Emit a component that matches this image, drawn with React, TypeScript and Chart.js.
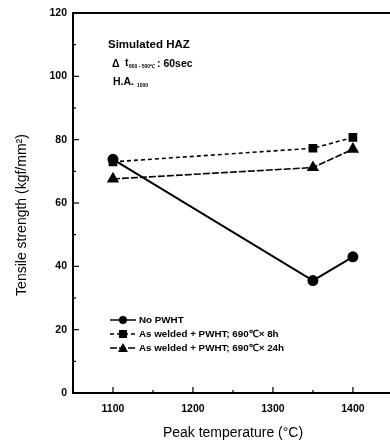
import React, { useEffect, useRef } from "react";
import { Chart, registerables } from "chart.js";

Chart.register(...registerables);

const temps = [1100, 1350, 1400];
const noPwht = [73.8, 35.5, 43];
const pwht8h = [73, 77.3, 80.7];
const pwht24h = [67.6, 71.2, 77];
const seriesNames = ["No PWHT", "As welded + PWHT; 690\u2103\u00d7 8h", "As welded + PWHT; 690\u2103\u00d7 24h"];
const xTicks = [1100, 1200, 1300, 1400];
const yTicks = [0, 20, 40, 60, 80, 100, 120];

const FONT = 'Arial, "Liberation Sans", sans-serif';

const overlay = {
  id: "overlay",
  afterDraw(chart: any) {
    const ctx = chart.ctx;
    const xs = chart.scales.x;
    const ys = chart.scales.y;
    const a = chart.chartArea;
    ctx.save();
    ctx.strokeStyle = "#000";
    ctx.lineWidth = 2;
    ctx.strokeRect(a.left, a.top, a.right - a.left, a.bottom - a.top);
    // inward ticks
    ctx.lineWidth = 1.2;
    for (let v = 1050; v <= 1450; v += 50) {
      const px = xs.getPixelForValue(v);
      const len = v % 100 === 0 ? 6 : 3;
      ctx.beginPath();
      ctx.moveTo(px, a.bottom);
      ctx.lineTo(px, a.bottom - len);
      ctx.stroke();
    }
    for (let v = 0; v <= 120; v += 10) {
      const py = ys.getPixelForValue(v);
      const len = v % 20 === 0 ? 6 : 3;
      ctx.beginPath();
      ctx.moveTo(a.left, py);
      ctx.lineTo(a.left + len, py);
      ctx.stroke();
    }
    ctx.fillStyle = "#000";
    // annotation text
    ctx.textAlign = "left";
    ctx.textBaseline = "middle";
    ctx.font = "bold 11.5px " + FONT;
    ctx.fillText("Simulated HAZ", 108, 45);
    ctx.font = "bold 10.5px " + FONT;
    ctx.fillText("\u0394", 112, 64);
    ctx.fillText("t", 125, 63);
    ctx.font = "bold 5px " + FONT;
    ctx.fillText("800 - 500\u2103", 129, 67);
    ctx.font = "bold 10.5px " + FONT;
    ctx.fillText(": 60sec", 157, 64);
    ctx.fillText("H.A.", 113, 82);
    ctx.font = "bold 5px " + FONT;
    ctx.fillText("1000", 137, 86);
    // legend
    const rows = [320, 334, 348];
    const dashes = [[], [4, 3], [7, 2]];
    const shapes = ["circle", "rect", "triangle"];
    rows.forEach((y, i) => {
      ctx.lineWidth = 1.5;
      ctx.setLineDash(dashes[i]);
      ctx.beginPath();
      ctx.moveTo(110, y);
      ctx.lineTo(136, y);
      ctx.stroke();
      ctx.setLineDash([]);
      const cx = 123;
      ctx.beginPath();
      if (shapes[i] === "circle") {
        ctx.arc(cx, y, 4, 0, Math.PI * 2);
      } else if (shapes[i] === "rect") {
        ctx.rect(cx - 4, y - 4, 8, 8);
      } else {
        ctx.moveTo(cx, y - 5);
        ctx.lineTo(cx + 5, y + 4);
        ctx.lineTo(cx - 5, y + 4);
        ctx.closePath();
      }
      ctx.fill();
      ctx.font = "bold 9.8px " + FONT;
      ctx.fillText(seriesNames[i], 139, y);
    });
    // axis titles
    ctx.font = "14px " + FONT;
    ctx.textAlign = "center";
    ctx.fillText("Peak temperature (\u00b0C)", 233, 433);
    ctx.translate(22, 215);
    ctx.rotate(-Math.PI / 2);
    ctx.fillText("Tensile strength (kgf/mm\u00b2)", 0, 0);
    ctx.restore();
  },
};

export default function App() {
  const ref = useRef<HTMLCanvasElement>(null);
  useEffect(() => {
    if (!ref.current) return;
    const mk = (data: number[]) => temps.map((t, i) => ({ x: t, y: data[i] }));
    const chart = new Chart(ref.current, {
      type: "line",
      data: {
        datasets: [
          {
            label: seriesNames[0],
            data: mk(noPwht),
            borderColor: "#000",
            backgroundColor: "#000",
            borderWidth: 2,
            pointStyle: "circle",
            pointRadius: 4.5,
          },
          {
            label: seriesNames[1],
            data: mk(pwht8h),
            borderColor: "#000",
            backgroundColor: "#000",
            borderWidth: 1.6,
            borderDash: [4, 3],
            pointStyle: "rect",
            pointRadius: 5,
          },
          {
            label: seriesNames[2],
            data: mk(pwht24h),
            borderColor: "#000",
            backgroundColor: "#000",
            borderWidth: 1.6,
            borderDash: [7, 2],
            pointStyle: "triangle",
            pointRadius: 5.5,
          },
        ],
      },
      options: {
        animation: false,
        responsive: false,
        maintainAspectRatio: false,
        layout: { padding: { top: 13, right: 3, left: 0, bottom: 0 } },
        plugins: { legend: { display: false }, tooltip: { enabled: false } },
        scales: {
          x: {
            type: "linear",
            min: 1050,
            max: 1450,
            afterFit: (s: any) => {
              s.height = 52;
              s.paddingLeft = 0;
              s.paddingRight = 0;
            },
            afterBuildTicks: (s: any) => {
              s.ticks = xTicks.map((v) => ({ value: v }));
            },
            grid: { display: false, drawTicks: false },
            border: { display: false },
            ticks: {
              padding: 10,
              color: "#000",
              font: { family: FONT, size: 10.5, weight: "bold" },
              callback: (v: any) => String(v),
            },
          },
          y: {
            min: 0,
            max: 120,
            afterFit: (s: any) => {
              s.width = 73;
            },
            afterBuildTicks: (s: any) => {
              s.ticks = yTicks.map((v) => ({ value: v }));
            },
            grid: { display: false, drawTicks: false },
            border: { display: false },
            ticks: {
              padding: 6,
              color: "#000",
              font: { family: FONT, size: 10.5, weight: "bold" },
            },
          },
        },
      },
      plugins: [overlay],
    } as any);
    return () => chart.destroy();
  }, []);
  return (
    <div style={{ position: "fixed", left: 0, top: 0, width: 390, height: 445, overflow: "hidden", background: "#fff" }}>
      <canvas ref={ref} width={400} height={445} style={{ width: 400, height: 445, display: "block" }} />
    </div>
  );
}
